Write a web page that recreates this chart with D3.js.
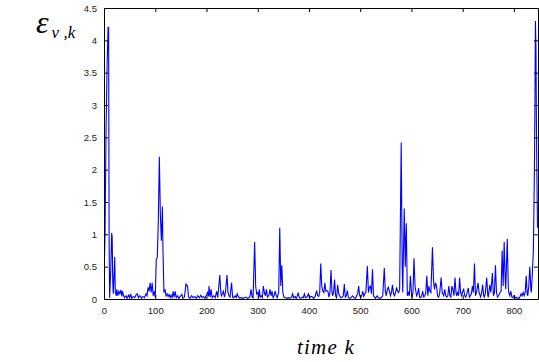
<!DOCTYPE html>
<html>
<head>
<meta charset="utf-8">
<script src="https://cdn.jsdelivr.net/npm/d3@7"></script>
<style>
  body { margin: 0; background: #fff; }
  svg { display: block; }
  .axis text { font-family: "Liberation Sans", Arial, sans-serif; font-size: 9.5px; fill: #222; }
  .axis path, .axis line { stroke: #000; stroke-width: 1; }
</style>
</head>
<body>
<div id="chart"></div>
<script>
const timeK = [
  0, 2, 4, 6, 8, 9, 10, 11, 13, 15, 16, 17, 18, 19, 21, 22, 24, 25, 27, 29,
  31, 33, 35, 36, 38, 40, 43, 45, 48, 50, 52, 54, 57, 60, 63, 65, 67, 70, 73, 76,
  79, 82, 84, 86, 88, 90, 92, 94, 96, 98, 100, 102, 104, 106, 108, 110, 112, 114, 115, 117,
  119, 121, 123, 125, 127, 129, 131, 133, 135, 137, 139, 141, 144, 146, 149, 152, 154, 157, 160, 163,
  165, 168, 171, 174, 177, 180, 183, 186, 189, 191, 194, 197, 200, 202, 204, 205, 207, 209, 211, 214,
  217, 220, 222, 226, 228, 229, 231, 233, 235, 237, 240, 242, 244, 246, 249, 251, 253, 256, 258, 260,
  262, 265, 268, 271, 274, 277, 280, 283, 285, 287, 289, 291, 294, 296, 298, 300, 302, 303, 305, 307,
  309, 311, 313, 315, 317, 319, 322, 324, 326, 328, 330, 332, 334, 336, 338, 341, 343, 345, 347, 349,
  351, 354, 357, 360, 363, 366, 368, 370, 373, 375, 377, 379, 381, 384, 387, 389, 391, 393, 396, 399,
  401, 404, 407, 409, 412, 415, 417, 419, 421, 423, 425, 427, 429, 431, 433, 435, 437, 439, 441, 443,
  445, 446, 448, 450, 452, 454, 456, 458, 460, 462, 465, 467, 469, 471, 473, 475, 477, 480, 483, 485,
  488, 491, 493, 495, 497, 499, 501, 503, 505, 507, 509, 511, 514, 516, 518, 520, 522, 524, 526, 528,
  530, 533, 535, 538, 541, 544, 547, 549, 551, 553, 555, 557, 559, 561, 563, 565, 567, 569, 571, 573,
  575, 577, 580, 582, 583, 586, 588, 590, 592, 594, 596, 598, 600, 601, 603, 605, 607, 609, 610, 612,
  614, 616, 618, 620, 622, 624, 626, 628, 630, 632, 634, 636, 638, 641, 643, 645, 647, 649, 651, 653,
  655, 658, 660, 663, 665, 667, 669, 671, 673, 675, 677, 679, 681, 683, 685, 687, 688, 690, 692, 694,
  696, 698, 700, 702, 704, 706, 708, 711, 713, 715, 717, 719, 721, 723, 725, 727, 728, 730, 732, 735,
  737, 739, 741, 742, 744, 747, 749, 750, 753, 755, 758, 760, 762, 764, 766, 768, 770, 773, 775, 777,
  779, 781, 783, 784, 787, 789, 790, 792, 794, 796, 798, 800, 802, 804, 806, 808, 810, 812, 814, 816,
  818, 820, 822, 824, 826, 827, 829, 831, 833, 834, 836, 838, 840, 841, 842, 843, 844, 845, 846
];

// error epsilon_{v,k} at those steps
const errorVals = [
  0.3, 1.0, 2.6, 3.6, 4.2, 4.2, 0.9, 0.02, 0.4, 1.02, 0.95, 0.3, 0.08, 0.25, 0.65, 0.1, 0.05, 0.15, 0.05, 0.12,
  0.08, 0.14, 0.04, 0.12, 0.06, 0.02, 0.05, 0.01, 0.06, 0.02, 0.08, 0.01, 0.04, 0.02, 0.07, 0.08, 0.02, 0.05, 0.01, 0.04,
  0.02, 0.08, 0.05, 0.18, 0.12, 0.25, 0.1, 0.25, 0.05, 0.12, 0.03, 0.6, 0.65, 1.2, 2.2, 1.3, 0.9, 1.43, 0.8, 0.1,
  0.15, 0.05, 0.08, 0.04, 0.07, 0.02, 0.06, 0.02, 0.12, 0.03, 0.12, 0.02, 0.05, 0.01, 0.04, 0.07, 0.01, 0.03, 0.23, 0.2,
  0.03, 0.01, 0.05, 0.02, 0.04, 0.01, 0.05, 0.02, 0.06, 0.02, 0.04, 0.01, 0.06, 0.1, 0.04, 0.2, 0.03, 0.15, 0.02, 0.05,
  0.02, 0.12, 0.02, 0.37, 0.1, 0.05, 0.08, 0.12, 0.03, 0.1, 0.37, 0.1, 0.05, 0.03, 0.25, 0.03, 0.02, 0.05, 0.02, 0.08,
  0.04, 0.01, 0.02, 0.01, 0.02, 0.03, 0.01, 0.02, 0.05, 0.15, 0.03, 0.02, 0.88, 0.2, 0.08, 0.1, 0.03, 0.15, 0.03, 0.05,
  0.02, 0.2, 0.1, 0.05, 0.15, 0.03, 0.06, 0.15, 0.05, 0.12, 0.02, 0.05, 0.12, 0.06, 0.02, 0.1, 1.1, 0.2, 0.52, 0.1,
  0.03, 0.02, 0.01, 0.02, 0.01, 0.03, 0.08, 0.02, 0.04, 0.01, 0.04, 0.1, 0.02, 0.01, 0.03, 0.02, 0.08, 0.02, 0.03, 0.08,
  0.02, 0.04, 0.03, 0.01, 0.04, 0.13, 0.05, 0.04, 0.1, 0.55, 0.2, 0.12, 0.1, 0.25, 0.12, 0.13, 0.12, 0.03, 0.1, 0.45,
  0.1, 0.05, 0.1, 0.3, 0.05, 0.02, 0.22, 0.08, 0.05, 0.02, 0.03, 0.05, 0.23, 0.03, 0.05, 0.13, 0.02, 0.01, 0.03, 0.05,
  0.02, 0.01, 0.05, 0.08, 0.2, 0.05, 0.03, 0.05, 0.12, 0.04, 0.08, 0.1, 0.51, 0.1, 0.18, 0.2, 0.08, 0.46, 0.05, 0.03,
  0.01, 0.05, 0.02, 0.01, 0.02, 0.05, 0.48, 0.12, 0.05, 0.15, 0.18, 0.12, 0.05, 0.1, 0.22, 0.08, 0.05, 0.1, 0.18, 0.12,
  0.1, 0.15, 2.42, 0.5, 0.1, 1.4, 0.5, 1.17, 0.05, 0.1, 0.05, 0.36, 0.1, 0.02, 0.1, 0.63, 0.2, 0.1, 0.05, 0.08,
  0.17, 0.03, 0.02, 0.05, 0.12, 0.03, 0.05, 0.1, 0.36, 0.05, 0.2, 0.12, 0.1, 0.8, 0.3, 0.15, 0.25, 0.2, 0.05, 0.03,
  0.08, 0.33, 0.1, 0.05, 0.15, 0.05, 0.03, 0.05, 0.2, 0.05, 0.03, 0.2, 0.15, 0.05, 0.33, 0.1, 0.05, 0.1, 0.05, 0.33,
  0.1, 0.05, 0.12, 0.15, 0.05, 0.03, 0.08, 0.17, 0.03, 0.05, 0.08, 0.2, 0.1, 0.55, 0.05, 0.1, 0.15, 0.25, 0.1, 0.03,
  0.1, 0.22, 0.05, 0.03, 0.08, 0.33, 0.05, 0.03, 0.22, 0.1, 0.4, 0.05, 0.1, 0.52, 0.1, 0.03, 0.05, 0.1, 0.12, 0.75,
  0.2, 0.88, 0.3, 0.15, 0.93, 0.2, 0.1, 0.05, 0.12, 0.03, 0.02, 0.05, 0.01, 0.03, 0.01, 0.02, 0.01, 0.04, 0.08, 0.05,
  0.1, 0.05, 0.1, 0.36, 0.08, 0.05, 0.2, 0.5, 0.15, 0.1, 0.4, 0.75, 2.0, 3.0, 4.3, 3.9, 2.6, 1.8, 1.1
];

const xTicks = [0, 100, 200, 300, 400, 500, 600, 700, 800];
const yTicks = [0, 0.5, 1, 1.5, 2, 2.5, 3, 3.5, 4, 4.5];

const width = 539;
const height = 362;
const margin = { top: 8, right: 1, bottom: 63, left: 104 };
const innerW = width - margin.left - margin.right;
const innerH = height - margin.top - margin.bottom;

const data = timeK.map((k, i) => ({ k, v: errorVals[i] }));

const svg = d3.select('#chart')
  .append('svg')
  .attr('width', width)
  .attr('height', height);

const g = svg.append('g')
  .attr('transform', `translate(${margin.left},${margin.top})`);

const x = d3.scaleLinear().domain([0, 847]).range([0, innerW]);
const y = d3.scaleLinear().domain([0, 4.5]).range([innerH, 0]);

// clip so the line stays inside the box
g.append('clipPath').attr('id', 'clip')
  .append('rect').attr('width', innerW).attr('height', innerH + 1);

const line = d3.line()
  .x(d => x(d.k))
  .y(d => y(d.v));

g.append('path')
  .datum(data)
  .attr('clip-path', 'url(#clip)')
  .attr('fill', 'none')
  .attr('stroke', '#0000ff')
  .attr('stroke-width', 1.1)
  .attr('d', line);

// axes, ticks pointing inward on all four sides
g.append('g')
  .attr('class', 'axis')
  .attr('transform', `translate(0,${innerH})`)
  .call(d3.axisBottom(x).tickValues(xTicks).tickSizeInner(-4).tickSizeOuter(0).tickPadding(8));

g.append('g')
  .attr('class', 'axis')
  .call(d3.axisLeft(y).tickValues(yTicks).tickSizeInner(-4).tickSizeOuter(0).tickPadding(7)
    .tickFormat(d3.format('')));

g.append('g')
  .attr('class', 'axis')
  .call(d3.axisTop(x).tickValues(xTicks).tickSizeInner(-4).tickSizeOuter(0).tickFormat(''));

g.append('g')
  .attr('class', 'axis')
  .attr('transform', `translate(${innerW},0)`)
  .call(d3.axisRight(y).tickValues(yTicks).tickSizeInner(-4).tickSizeOuter(0).tickFormat(''));

// y label: epsilon with subscript v,k
const yl = svg.append('text')
  .attr('x', 36)
  .attr('y', 33)
  .attr('font-family', '"Liberation Serif", "Times New Roman", serif')
  .attr('font-style', 'italic')
  .attr('fill', '#000');
yl.append('tspan').attr('font-size', '32px').text('ε');
yl.append('tspan').attr('font-size', '17px').attr('dy', 5).attr('dx', 3).text('v ,k');

// x label
svg.append('text')
  .attr('x', 326)
  .attr('y', 354)
  .attr('text-anchor', 'middle')
  .attr('font-family', '"Liberation Serif", "Times New Roman", serif')
  .attr('font-style', 'italic')
  .attr('font-size', '21px')
  .attr('letter-spacing', '1.2px')
  .attr('fill', '#000')
  .text('time k');
</script>
</body>
</html>
